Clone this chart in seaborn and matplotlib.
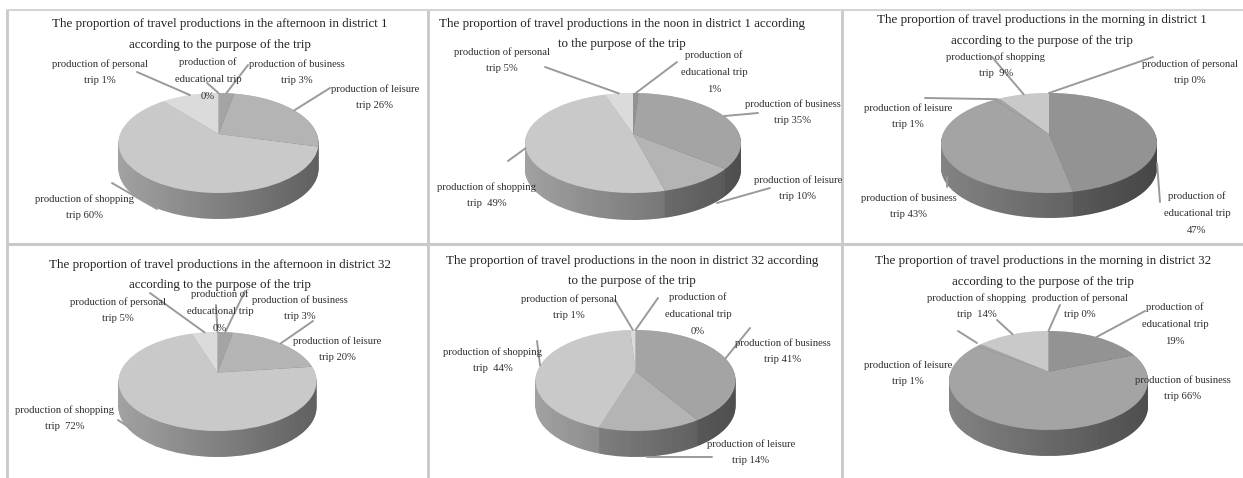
import numpy as np
import matplotlib.pyplot as plt
from matplotlib.colors import LinearSegmentedColormap, to_rgb
from matplotlib.patches import PathPatch
from matplotlib.path import Path
from matplotlib.transforms import Affine2D, Transform
import seaborn as sns

W, H = 1243, 478

titles = [
    'The proportion of travel productions in the afternoon in district 1\naccording to the purpose of the trip',
    'The proportion of travel productions in the noon in district 1 according\nto the purpose of the trip',
    'The proportion of travel productions in the morning in district 1\naccording to the purpose of the trip',
    'The proportion of travel productions in the afternoon in district 32\naccording to the purpose of the trip',
    'The proportion of travel productions in the noon in district 32 according\nto the purpose of the trip',
    'The proportion of travel productions in the morning in district 32\naccording to the purpose of the trip',
]

# slices go clockwise from 12 o'clock
purposes_a = ['educational', 'business', 'leisure', 'shopping', 'personal']
purposes_b = ['personal', 'educational', 'business', 'leisure', 'shopping']

# first chart: the label says 1% for personal, but the slice is drawn about 11%
afternoon_d1 = [0, 3, 26, 60, 11]
noon_d1 = [1, 35, 10, 49, 5]
morning_d1 = [0, 47, 43, 1, 9]
afternoon_d32 = [0, 3, 20, 72, 5]
noon_d32 = [0, 41, 14, 44, 1]
morning_d32 = [0, 19, 66, 1, 14]

labels_afternoon_d1 = ['production of\neducational trip\n0%', 'production of business\ntrip 3%',
                       'production of leisure\ntrip 26%', 'production of shopping\ntrip 60%',
                       'production of personal\ntrip 1%']
labels_noon_d1 = ['production of\neducational trip\n1%', 'production of business\ntrip 35%',
                  'production of leisure\ntrip 10%', 'production of shopping\ntrip  49%',
                  'production of personal\ntrip 5%']
labels_morning_d1 = ['production of personal\ntrip 0%', 'production of\neducational trip\n47%',
                     'production of business\ntrip 43%', 'production of leisure\ntrip 1%',
                     'production of shopping\ntrip  9%']
labels_afternoon_d32 = ['production of\neducational trip\n0%', 'production of business\ntrip 3%',
                        'production of leisure\ntrip 20%', 'production of shopping\ntrip  72%',
                        'production of personal\ntrip 5%']
labels_noon_d32 = ['production of\neducational trip\n0%', 'production of business\ntrip 41%',
                   'production of leisure\ntrip 14%', 'production of shopping\ntrip  44%',
                   'production of personal\ntrip 1%']
labels_morning_d32 = ['production of personal\ntrip 0%', 'production of\neducational trip\n19%',
                      'production of business\ntrip 66%', 'production of leisure\ntrip 1%',
                      'production of shopping\ntrip  14%']

purpose_colors = {'educational': '#939393', 'business': '#a4a4a4', 'leisure': '#b4b4b4',
                  'shopping': '#c9c9c9', 'personal': '#dbdbdb'}
# in the morning charts the thin leisure slice does not show against business
morning_colors = dict(purpose_colors, leisure=purpose_colors['business'])

charts = [
    (afternoon_d1, purposes_a, labels_afternoon_d1, purpose_colors),
    (noon_d1, purposes_a, labels_noon_d1, purpose_colors),
    (morning_d1, purposes_b, labels_morning_d1, morning_colors),
    (afternoon_d32, purposes_a, labels_afternoon_d32, purpose_colors),
    (noon_d32, purposes_a, labels_noon_d32, purpose_colors),
    (morning_d32, purposes_b, labels_morning_d32, morning_colors),
]

# layout in image pixels: pie (cx, top, rx, ry, depth), title (x, y of line 1, y of line 2)
pies = [(218.5, 93, 100, 50, 26), (633, 93, 108, 50, 27), (1049, 93, 108, 50, 25),
        (217.5, 332, 99, 49.5, 26), (635.5, 330, 100, 50.5, 26), (1048.5, 331, 99.5, 49.5, 26)]
title_pos = [(220, 24, 45), (622, 24, 44), (1042, 20, 41), (220, 265, 285), (632, 261, 281), (1043, 261, 282)]
label_pos = [
    [(208, 79), (297, 72), (375, 97), (85, 207), (100, 72)],
    [(714, 72), (793, 112), (798, 188), (487, 195), (502, 60)],
    [(1190, 72), (1197, 213), (909, 206), (908, 116), (996, 65)],
    [(220, 311), (300, 308), (337, 349), (65, 418), (118, 310)],
    [(698, 314), (783, 351), (751, 452), (493, 360), (569, 307)],
    [(1080, 306), (1175, 324), (1183, 388), (908, 373), (977, 306)],
]
leader_tips = [
    [(207, 83), (248, 65), (330, 88), (112, 183), (137, 72)],
    [(677, 62), (758, 113), (770, 188), (508, 161), (545, 67)],
    [(1153, 57), (1160, 202), (947, 177), (925, 98), (992, 57)],
    [(216, 305), (245, 291), (313, 321), (118, 420), (150, 293)],
    [(658, 298), (750, 328), (712, 457), (537, 341), (615, 300)],
    [(1060, 305), (1145, 311), None, (958, 331), (997, 320)],
]
# leaders that do not start on the rim at the middle of their slice
leader_starts = {(0, 3): (157, 209), (3, 3): (157, 446), (4, 2): (647, 457), (1, 2): (717, 203),
                 (2, 2): (947, 187), (5, 3): (977, 343), (2, 1): (1157, 163)}

APEX_SHIFT = 0.18  # the 3d view puts the apex above the middle of the ellipse


def tilt(x, y):
    # projective map that keeps the unit circle but moves its centre up
    k = 1 + APEX_SHIFT * y
    return x * np.sqrt(1 - APEX_SHIFT ** 2) / k, (y + APEX_SHIFT) / k


class Tilt(Transform):
    input_dims = output_dims = 2

    def transform_non_affine(self, values):
        x, y = tilt(values[:, 0], values[:, 1])
        return np.column_stack([x, y])


sns.set_theme(style='white')
plt.rcParams['font.family'] = 'Liberation Serif'

fig = plt.figure(figsize=(W / 100, H / 100), dpi=100, facecolor='white')

# full figure overlay in pixel coordinates for frames, text and leader lines
overlay = fig.add_axes([0, 0, 1, 1], zorder=5)
overlay.set_xlim(0, W)
overlay.set_ylim(H, 0)
overlay.axis('off')

frame_color = '#c9c9c9'
for x in (7, 428, 842):
    overlay.plot([x, x], [10, H], color=frame_color, lw=2)
overlay.plot([7, W], [10, 10], color='#d4d4d4', lw=1.5)
overlay.plot([7, W], [244, 244], color=frame_color, lw=2.2)

shade = LinearSegmentedColormap.from_list('shade', [(0, 0, 0, 0), (0, 0, 0, 0.4)])
text_color = '#2e2e2e'

for i, (values, purposes, labels, colors) in enumerate(charts):
    cx, top, rx, ry, depth = pies[i]
    left = cx - rx
    bottom = top + 2 * ry + depth
    ax = fig.add_axes([left / W, 1 - bottom / H, 2 * rx / W, (2 * ry + depth) / H])

    top_colors = [colors[p] for p in purposes]
    side_colors = [tuple(np.array(to_rgb(c)) * 0.8) for c in top_colors]
    d = depth / ry
    for off in np.linspace(d, 0.02, 30):
        wedges, _ = ax.pie(values, colors=side_colors, startangle=90, counterclock=False,
                           radius=1, wedgeprops={'linewidth': 0, 'zorder': 1})
        for w in wedges:
            w.set_transform(Tilt() + Affine2D().translate(0, -off) + ax.transData)
    wedges, _ = ax.pie(values, colors=top_colors, startangle=90, counterclock=False, radius=1,
                       wedgeprops={'linewidth': 0, 'zorder': 3})
    for w in wedges:
        w.set_transform(Tilt() + ax.transData)

    # side wall gets darker towards the right
    im = ax.imshow(np.linspace(0, 1, 64).reshape(1, -1), cmap=shade, aspect='auto',
                   extent=(-1, 1, -1 - d, 1), zorder=2)
    t = np.linspace(np.pi, 2 * np.pi, 80)
    rim = np.column_stack([np.cos(t), np.sin(t) - d])
    wall = Path(np.vstack([rim, np.column_stack([np.cos(t[::-1]), -np.sin(t[::-1])])]))
    clip = PathPatch(wall, transform=ax.transData, fc='none', lw=0)
    ax.add_patch(clip)
    im.set_clip_path(clip)

    ax.set_aspect('auto')
    ax.set_xlim(-1, 1)
    ax.set_ylim(-1 - d, 1)

    line1, line2 = titles[i].split('\n')
    tx, ty1, ty2 = title_pos[i]
    overlay.text(tx, ty1, line1, ha='center', va='center', fontsize=9.4, color='#222222')
    overlay.text(tx, ty2, line2, ha='center', va='center', fontsize=9.4, color='#222222')

    # leader lines start from the middle of their slice on the rim
    cum = np.cumsum(values)
    mids = (cum - np.array(values) / 2) / cum[-1] * 2 * np.pi
    for j, lab in enumerate(labels):
        tip = leader_tips[i][j]
        if tip is not None:
            ux, uy = tilt(np.sin(mids[j]), np.cos(mids[j]))
            start = leader_starts.get((i, j), (cx + rx * ux, top + ry - ry * uy))
            overlay.plot([start[0], tip[0]], [start[1], tip[1]], color='#9a9a9a', lw=1.4,
                         solid_capstyle='round')
        overlay.text(*label_pos[i][j], lab, ha='center', va='center', fontsize=7.7,
                     linespacing=2.1, color=text_color)

fig.savefig('out.png', dpi=100)
plt.close()
